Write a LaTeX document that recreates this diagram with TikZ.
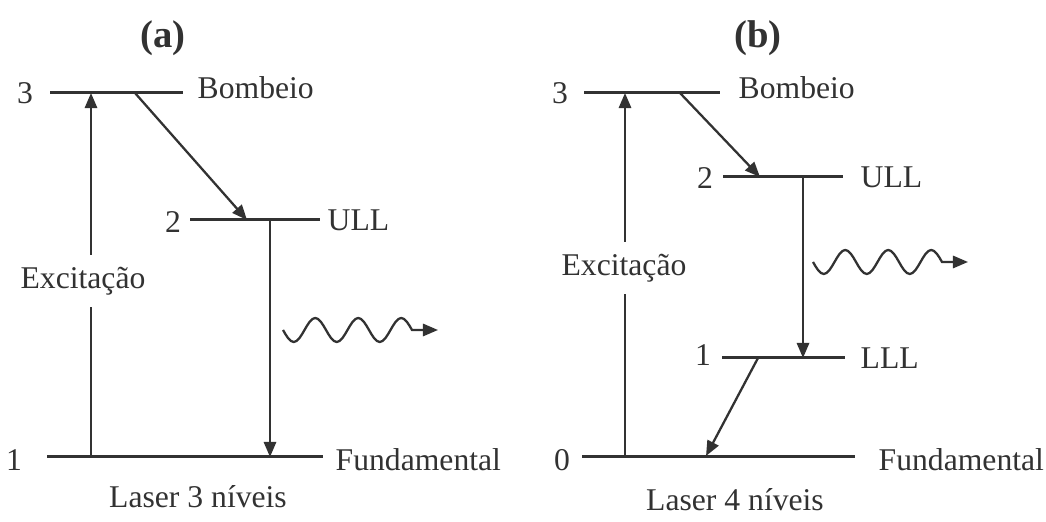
\documentclass[tikz,border=0pt]{standalone}
\usepackage{fontspec}
\setmainfont{Liberation Serif}
\usepackage{xcolor}
\usetikzlibrary{arrows.meta}
\definecolor{ink}{RGB}{50,50,50}

\begin{document}
\begin{tikzpicture}[x=.01cm,y=.01cm,>={Triangle[length=4.3pt,width=3.5pt]},
  level/.style={ink,line width=.85pt},
  trans/.style={ink,line width=.65pt,->},
  photon/.style={ink,line width=.65pt,->},
  lbl/.style={text=ink,font=\fontsize{9}{11}\selectfont,inner sep=0pt},
  ttl/.style={text=ink,font=\fontsize{11}{13}\selectfont\bfseries,inner sep=0pt}]
\useasboundingbox (0,0) rectangle (1046,522);

% (a) three levels
\node[ttl] (ta) at (163,484) {(a)};
\coordinate (a3l) at (50,429);  \coordinate (a3r) at (183,429);
\coordinate (a2l) at (190,302); \coordinate (a2r) at (320,302);
\coordinate (a1l) at (47,65);   \coordinate (a1r) at (323,65);
\draw[level] (a3l) -- (a3r);
\draw[level] (a2l) -- (a2r);
\draw[level] (a1l) -- (a1r);
\node[lbl] (na3) at (25,429) {3};
\node[lbl] (na2) at (173,300) {2};
\node[lbl] (na1) at (14,62) {1};
\node[lbl,anchor=west] (pa) at (197,434) {Bombeio};
\node[lbl,anchor=west] (ua) at (327,302) {ULL};
\node[lbl,anchor=west] (fa) at (335,62) {Fundamental};
\coordinate (ea0) at (91,65);   \coordinate (ea1) at (91,429);
\coordinate (da0) at (135,429); \coordinate (da1) at (247,302);
\coordinate (la0) at (270,302); \coordinate (la1) at (270,65);
\coordinate (wa0) at (283,192); \coordinate (wa1) at (438,192);
\draw[trans] (ea0) -- (ea1);
\draw[trans] (da0) -- (da1);
\draw[trans] (la0) -- (la1);
\draw[photon] (wa0) sin ++(10.75,-12) cos ++(10.75,12) sin ++(10.75,12) cos ++(10.75,-12)
  sin ++(10.75,-12) cos ++(10.75,12) sin ++(10.75,12) cos ++(10.75,-12)
  sin ++(10.75,-12) cos ++(10.75,12) sin ++(10.75,12) cos ++(10.75,-12) -- (wa1);
\node[lbl,fill=white,inner ysep=.12cm] (xa) at (83,241) {Excitação};
\node[lbl] (ca) at (198,25) {Laser 3 níveis};

% (b) four levels
\node[ttl] (tb) at (758,484) {(b)};
\coordinate (b3l) at (584,429); \coordinate (b3r) at (720,429);
\coordinate (b2l) at (723,345); \coordinate (b2r) at (843,345);
\coordinate (b1l) at (722,164); \coordinate (b1r) at (845,164);
\coordinate (b0l) at (582,65);  \coordinate (b0r) at (855,65);
\draw[level] (b3l) -- (b3r);
\draw[level] (b2l) -- (b2r);
\draw[level] (b1l) -- (b1r);
\draw[level] (b0l) -- (b0r);
\node[lbl] (nb3) at (560,429) {3};
\node[lbl] (nb2) at (705,344) {2};
\node[lbl] (nb1) at (703,167) {1};
\node[lbl] (nb0) at (562,62) {0};
\node[lbl,anchor=west] (pb) at (738,434) {Bombeio};
\node[lbl,anchor=west] (ub) at (860,345) {ULL};
\node[lbl,anchor=west] (lb) at (860,164) {LLL};
\node[lbl,anchor=west] (fb) at (878,62) {Fundamental};
\coordinate (eb0) at (625,65);  \coordinate (eb1) at (625,429);
\coordinate (db0) at (680,429); \coordinate (db1) at (760,345);
\coordinate (lb0) at (803,345); \coordinate (lb1) at (803,164);
\coordinate (rb0) at (758,164); \coordinate (rb1) at (706,66);
\coordinate (wb0) at (813,260); \coordinate (wb1) at (968,260);
\draw[trans] (eb0) -- (eb1);
\draw[trans] (db0) -- (db1);
\draw[trans] (lb0) -- (lb1);
\draw[trans] (rb0) -- (rb1);
\draw[photon] (wb0) sin ++(10.75,-12) cos ++(10.75,12) sin ++(10.75,12) cos ++(10.75,-12)
  sin ++(10.75,-12) cos ++(10.75,12) sin ++(10.75,12) cos ++(10.75,-12)
  sin ++(10.75,-12) cos ++(10.75,12) sin ++(10.75,12) cos ++(10.75,-12) -- (wb1);
\node[lbl,fill=white,inner ysep=.12cm] (xb) at (624,254) {Excitação};
\node[lbl] (cb) at (735,22) {Laser 4 níveis};
\end{tikzpicture}
\end{document}
